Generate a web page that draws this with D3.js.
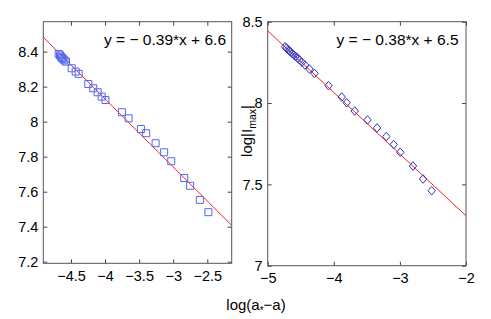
<!DOCTYPE html>
<html>
<head>
<meta charset="utf-8">
<script src="https://cdn.jsdelivr.net/npm/d3@7"></script>
<style>
  body { margin: 0; background: #fff; }
  svg text { font-family: "Liberation Sans", Arial, sans-serif; }
</style>
</head>
<body>
<svg id="chart" width="491" height="319"></svg>
<script>
// left panel: log(a*-a) vs first quantity (squares)
const leftX = [-4.680, -4.661, -4.647, -4.632, -4.613, -4.595, -4.573,
  -4.490, -4.431, -4.387, -4.246, -4.173, -4.109, -4.050, -3.994,
  -3.752, -3.654, -3.474, -3.397, -3.258, -3.133, -3.029,
  -2.839, -2.752, -2.609, -2.484];
const leftY = [8.387, 8.379, 8.371, 8.364, 8.357, 8.350, 8.343,
  8.305, 8.286, 8.273, 8.215, 8.191, 8.168, 8.143, 8.124,
  8.054, 8.019, 7.958, 7.934, 7.877, 7.825, 7.774,
  7.678, 7.634, 7.553, 7.483];
const leftFit = { slope: -0.389, intercept: 6.574 };
const leftXTicks = [-4.5, -4, -3.5, -3, -2.5];
const leftYTicks = [7.2, 7.4, 7.6, 7.8, 8, 8.2, 8.4];
const leftXDomain = [-4.906, -2.142];
const leftYDomain = [7.191, 8.571];
const leftLabel = "y = \u2212 0.39*x + 6.6";

// right panel: log|I_max| (diamonds)
const rightX = [-4.738, -4.716, -4.693, -4.670, -4.648, -4.625, -4.602,
  -4.576, -4.549, -4.519, -4.481, -4.436, -4.368, -4.292,
  -4.080, -3.880, -3.805, -3.684, -3.490, -3.346, -3.206,
  -3.094, -2.994, -2.802, -2.650, -2.519];
const rightY = [8.346, 8.338, 8.329, 8.320, 8.312, 8.303, 8.295,
  8.286, 8.277, 8.265, 8.250, 8.234, 8.209, 8.182,
  8.107, 8.037, 8.002, 7.951, 7.896, 7.847, 7.794,
  7.745, 7.697, 7.613, 7.533, 7.461];
const rightFit = { slope: -0.379, intercept: 6.549 };
const rightXTicks = [-5, -4, -3, -2];
const rightYTicks = [7, 7.5, 8, 8.5];
const rightXDomain = [-5, -2];
const rightYDomain = [7, 8.5];
const rightLabel = "y = \u2212 0.38*x + 6.5";

const svg = d3.select("#chart");
const fmt = d3.format("~g");

function panel(opt) {
  const x = d3.scaleLinear().domain(opt.xDomain).range([opt.left, opt.right]);
  const y = d3.scaleLinear().domain(opt.yDomain).range([opt.bottom, opt.top]);
  const g = svg.append("g");

  // clip for line
  const clipId = "clip" + opt.id;
  svg.append("clipPath").attr("id", clipId)
    .append("rect")
    .attr("x", opt.left).attr("y", opt.top)
    .attr("width", opt.right - opt.left).attr("height", opt.bottom - opt.top);

  const axes = [
    [d3.axisBottom(x).tickValues(opt.xTicks).tickFormat(fmt), `translate(0,${opt.bottom})`],
    [d3.axisTop(x).tickValues(opt.xTicks).tickFormat(""), `translate(0,${opt.top})`],
    [d3.axisLeft(y).tickValues(opt.yTicks).tickFormat(fmt), `translate(${opt.left},0)`],
    [d3.axisRight(y).tickValues(opt.yTicks).tickFormat(""), `translate(${opt.right},0)`]
  ];
  axes.forEach(([ax, tr], i) => {
    const a = g.append("g").attr("transform", tr)
      .call(ax.tickSize(-4).tickSizeOuter(0).tickPadding(i === 0 ? 7 : 5));
    a.select(".domain").remove();
    a.selectAll("line").attr("stroke", "#444");
    a.selectAll("text").attr("fill", "#000").style("font-size", "14.5px");
  });

  g.append("rect")
    .attr("x", opt.left).attr("y", opt.top)
    .attr("width", opt.right - opt.left).attr("height", opt.bottom - opt.top)
    .attr("fill", "none").attr("stroke", "#555").attr("stroke-width", 1);

  // fit line
  const lineData = opt.xDomain.map(v => [v, opt.fit.slope * v + opt.fit.intercept]);
  g.append("path")
    .attr("clip-path", `url(#${clipId})`)
    .attr("d", d3.line().x(d => x(d[0])).y(d => y(d[1]))(lineData))
    .attr("fill", "none").attr("stroke", "#ff2020").attr("stroke-width", 1);

  const pts = opt.xs.map((v, i) => [v, opt.ys[i]]);
  g.selectAll("path.pt")
    .data(pts)
    .enter()
    .append("path")
    .attr("class", "pt")
    .attr("transform", d => `translate(${x(d[0])},${y(d[1])})`)
    .attr("d", opt.marker)
    .attr("fill", "none")
    .attr("stroke", opt.color)
    .attr("stroke-width", 1);

  g.append("text")
    .attr("x", opt.labelX).attr("y", 45)
    .attr("text-anchor", "end")
    .style("font-size", "15.5px")
    .text(opt.label);
}

panel({
  id: "L", left: 43.3, right: 231.7, top: 21.7, bottom: 263.3,
  xDomain: leftXDomain, yDomain: leftYDomain,
  xTicks: leftXTicks, yTicks: leftYTicks,
  xs: leftX, ys: leftY, fit: leftFit,
  marker: "M-3.5,-3.5H3.5V3.5H-3.5Z", color: "#5566f0",
  label: leftLabel, labelX: 226
});

panel({
  id: "R", left: 267.7, right: 466, top: 21.7, bottom: 265.7,
  xDomain: rightXDomain, yDomain: rightYDomain,
  xTicks: rightXTicks, yTicks: rightYTicks,
  xs: rightX, ys: rightY, fit: rightFit,
  marker: "M0,-4.3L3.7,0L0,4.3L-3.7,0Z", color: "#2a35c0",
  label: rightLabel, labelX: 458.5
});

// x label with subscript asterisk
const xl = svg.append("text")
  .attr("x", 256).attr("y", 310)
  .attr("text-anchor", "middle")
  .style("font-size", "15px");
xl.append("tspan").text("log(a");
xl.append("tspan").attr("dy", 4).style("font-size", "10px").text("*");
xl.append("tspan").attr("dy", -4).text("\u2212a)");

// y label for right panel
const yl = svg.append("text")
  .attr("transform", "translate(252,131) rotate(-90)")
  .attr("text-anchor", "middle")
  .style("font-size", "15px");
yl.append("tspan").text("log|I");
yl.append("tspan").attr("dy", 4).style("font-size", "10.5px").text("max");
yl.append("tspan").attr("dy", -4).text("|");
</script>
</body>
</html>
